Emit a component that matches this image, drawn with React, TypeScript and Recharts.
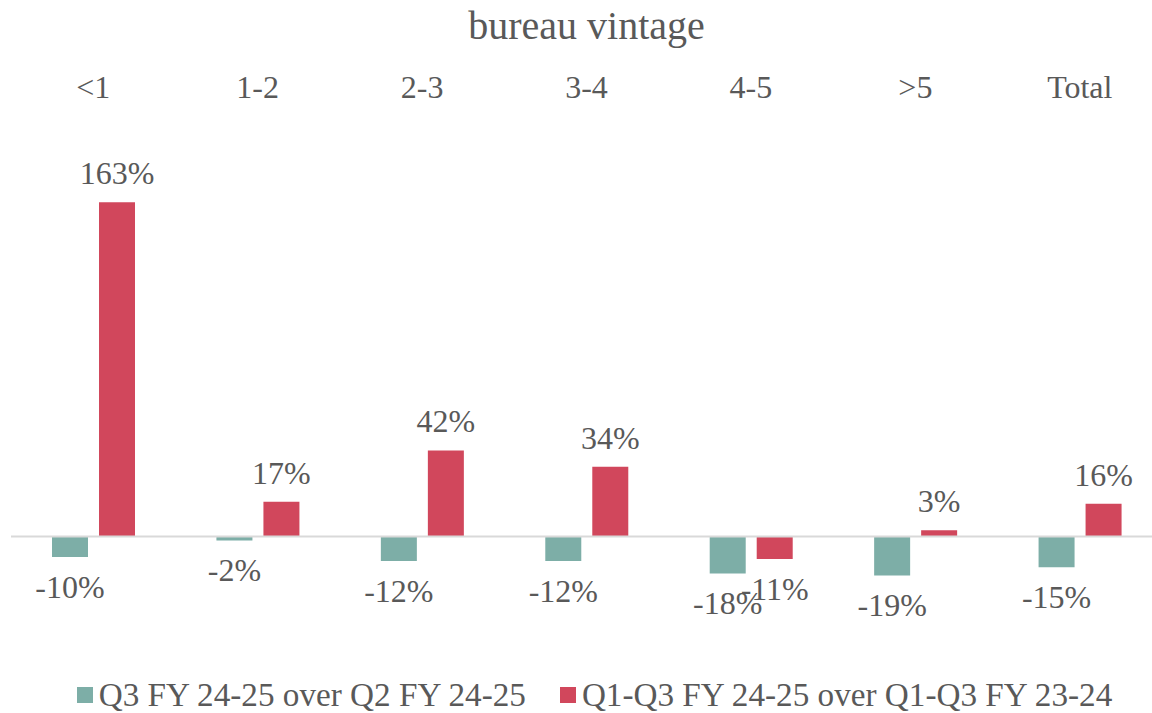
import React from 'react';
import { BarChart, Bar, XAxis, YAxis, ReferenceLine, LabelList, Legend } from 'recharts';

const categories = ['<1', '1-2', '2-3', '3-4', '4-5', '>5', 'Total'];
const q3OverQ2 = [-10, -2, -12, -12, -18, -19, -15];
const ytdOverYtd = [163, 17, 42, 34, -11, 3, 16];
const seriesNames = ['Q3 FY 24-25 over Q2 FY 24-25', 'Q1-Q3 FY 24-25 over Q1-Q3 FY 23-24'];
const seriesColors = ['#7DAEA7', '#D1475C'];
const title = 'bureau vintage';

const data = categories.map((c, i) => ({ cat: c, a: q3OverQ2[i], b: ytdOverYtd[i] }));

const FONT = '"Liberation Serif", "Times New Roman", serif';
const TEXT = '#595959';

const LegendContent = (props: any) => {
  const payload = [...(props.payload || [])].sort(
    (x: any, y: any) => seriesNames.indexOf(x.value) - seriesNames.indexOf(y.value)
  );
  return (
    <div
      style={{
        height: 74,
        boxSizing: 'border-box',
        paddingTop: 37,
        paddingLeft: 16,
        display: 'flex',
        justifyContent: 'center',
        fontFamily: FONT,
        fontSize: 33.2,
        lineHeight: '32px',
        color: TEXT,
      }}
    >
      {payload.map((p: any, i: number) => (
        <div key={i} style={{ display: 'flex', alignItems: 'center', marginLeft: i === 0 ? 0 : 34 }}>
          <div style={{ width: 16, height: 16, background: p.color, marginRight: 6 }} />
          <span style={{ whiteSpace: 'nowrap' }}>{p.value}</span>
        </div>
      ))}
    </div>
  );
};

export default function App() {
  return (
    <div
      style={{
        position: 'absolute',
        left: 0,
        top: 0,
        width: 1152,
        height: 713,
        overflow: 'hidden',
        background: '#fff',
        fontFamily: FONT,
      }}
    >
      <div
        style={{
          position: 'absolute',
          left: 11,
          width: 1151,
          top: 6,
          textAlign: 'center',
          fontSize: 40,
          lineHeight: '40px',
          color: TEXT,
          fontFamily: FONT,
        }}
      >
        {title}
      </div>
      <BarChart
        width={1162}
        height={713}
        data={data}
        margin={{ top: 46, right: 0, left: 11, bottom: 0 }}
        barGap={11}
        barSize={36}
        style={{ fontFamily: FONT }}
      >
        <XAxis
          dataKey="cat"
          orientation="top"
          height={60}
          axisLine={false}
          tickLine={false}
          interval={0}
          tick={{ fontSize: 32, fill: TEXT, fontFamily: FONT }}
        />
        <YAxis hide domain={[-50, 210]} allowDataOverflow />
        <Legend verticalAlign="bottom" content={<LegendContent />} />
        <Bar dataKey="a" name={seriesNames[0]} fill={seriesColors[0]} isAnimationActive={false}>
          <LabelList
            dataKey="a"
            position="top"
            offset={18}
            formatter={(v: any) => `${v}%`}
            style={{ fontSize: 32, fill: TEXT, fontFamily: FONT }}
          />
        </Bar>
        <Bar dataKey="b" name={seriesNames[1]} fill={seriesColors[1]} isAnimationActive={false}>
          <LabelList
            dataKey="b"
            position="top"
            offset={18}
            formatter={(v: any) => `${v}%`}
            style={{ fontSize: 32, fill: TEXT, fontFamily: FONT }}
          />
        </Bar>
        <ReferenceLine y={0} stroke="#D9D9D9" strokeWidth={2} />
      </BarChart>
    </div>
  );
}
